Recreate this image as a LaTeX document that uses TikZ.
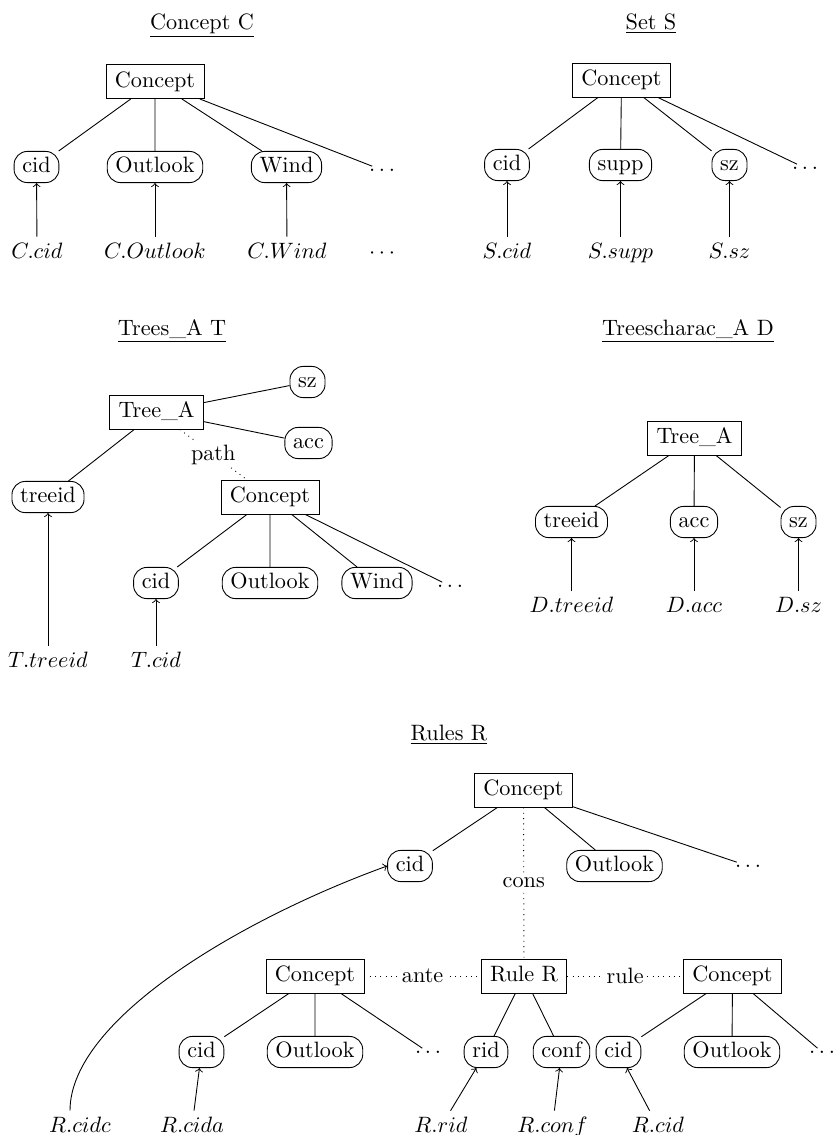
\documentclass[tikz,border=0pt]{standalone}
\usepackage{xcolor}
\usepackage{tikz}

\begin{document}
\begin{tikzpicture}[x=.45pt,y=-.45pt,
  box/.style={draw,inner xsep=4pt,inner ysep=3.25pt,text height=1.6ex,text depth=.45ex},
  att/.style={draw,rounded corners=6pt,inner xsep=3.7pt,inner ysep=2.6pt,text height=1.6ex,text depth=.45ex},
  more/.style={inner sep=1pt},
  lbl/.style={anchor=base,inner sep=2.5pt,text height=1.6ex,text depth=.45ex},
  ttl/.style={anchor=base},
  rel/.style={fill=white,inner sep=1pt}]
  \useasboundingbox (0,0) rectangle (839,1135);

  % Concept C
  \node[ttl] (ttlC) at (202,29) {\underline{Concept C}};
  \node[box] (cC) at (155,81.5) {Concept};
  \node[att] (cCid) at (36.5,167) {cid};
  \node[att] (cOut) at (155,167) {Outlook};
  \node[att] (cWind) at (286.5,167) {Wind};
  \node[more] (cMore) at (382,170) {$\ldots$};
  \draw (cC) -- (cCid) (cC) -- (cOut) (cC) -- (cWind) (cC) -- (cMore);
  \node[lbl] (lCcid) at (37,258) {$C.cid$};
  \node[lbl] (lCout) at (155,258) {$C.Outlook$};
  \node[lbl] (lCwind) at (287,258) {$C.Wind$};
  \node[lbl] (lCmore) at (382,258) {$\cdots$};
  \draw[->] (lCcid) -- (cCid);
  \draw[->] (lCout) -- (cOut);
  \draw[->] (lCwind) -- (cWind);

  % Set S
  \node[ttl] (ttlS) at (651,29) {\underline{Set S}};
  \node[box] (sC) at (621.5,80) {Concept};
  \node[att] (sCid) at (507,165) {cid};
  \node[att] (sSupp) at (620.5,165) {supp};
  \node[att] (sSz) at (729.5,165) {sz};
  \node[more] (sMore) at (805,168) {$\ldots$};
  \draw (sC) -- (sCid) (sC) -- (sSupp) (sC) -- (sSz) (sC) -- (sMore);
  \node[lbl] (lScid) at (507,258) {$S.cid$};
  \node[lbl] (lSsupp) at (620.5,258) {$S.supp$};
  \node[lbl] (lSsz) at (729.5,258) {$S.sz$};
  \draw[->] (lScid) -- (sCid);
  \draw[->] (lSsupp) -- (sSupp);
  \draw[->] (lSsz) -- (sSz);

  % Trees_A T
  \node[ttl] (ttlT) at (172,335) {\underline{Trees\_A T}};
  \node[box] (tTree) at (156.5,412) {Tree\_A};
  \node[att] (tSz) at (307.5,382) {sz};
  \node[att] (tAcc) at (308.5,443) {acc};
  \node[att] (tTid) at (48,497) {treeid};
  \node[box] (tC) at (270,497) {Concept};
  \node[att] (tCid) at (156,583) {cid};
  \node[att] (tOut) at (270,583) {Outlook};
  \node[att] (tWind) at (377,583) {Wind};
  \node[more] (tMore) at (450,586) {$\ldots$};
  \draw (tTree) -- (tSz) (tTree) -- (tAcc) (tTree) -- (tTid);
  \draw[dotted] (tTree) -- node[rel] {path} (tC);
  \draw (tC) -- (tCid) (tC) -- (tOut) (tC) -- (tWind) (tC) -- (tMore);
  \node[lbl] (lTtid) at (48,667) {$T.treeid$};
  \node[lbl] (lTcid) at (156,667) {$T.cid$};
  \draw[->] (lTtid) -- (tTid);
  \draw[->] (lTcid) -- (tCid);

  % Treescharac_A D
  \node[ttl] (ttlD) at (688,335) {\underline{Treescharac\_A D}};
  \node[box] (dTree) at (694.5,438) {Tree\_A};
  \node[att] (dTid) at (571.5,522) {treeid};
  \node[att] (dAcc) at (694,522) {acc};
  \node[att] (dSz) at (798.5,522) {sz};
  \draw (dTree) -- (dTid) (dTree) -- (dAcc) (dTree) -- (dSz);
  \node[lbl] (lDtid) at (571.5,612) {$D.treeid$};
  \node[lbl] (lDacc) at (694,612) {$D.acc$};
  \node[lbl] (lDsz) at (798.5,612) {$D.sz$};
  \draw[->] (lDtid) -- (dTid);
  \draw[->] (lDacc) -- (dAcc);
  \draw[->] (lDsz) -- (dSz);

  % Rules R
  \node[ttl] (ttlR) at (449,740) {\underline{Rules R}};
  \node[box] (rConcC) at (523.5,790) {Concept};
  \node[att] (rCidc) at (410,866) {cid};
  \node[att] (rOutc) at (614.5,866) {Outlook};
  \node[more] (rMorec) at (748,866) {$\ldots$};
  \draw (rConcC) -- (rCidc) (rConcC) -- (rOutc) (rConcC) -- (rMorec);
  \node[box] (rRule) at (524,976) {Rule R};
  \node[box] (rConcA) at (315,976) {Concept};
  \node[box] (rConcR) at (732.5,976) {Concept};
  \draw[dotted] (rConcC) -- node[rel] {cons} (rRule);
  \draw[dotted] (rConcA) -- node[rel] {ante} (rRule);
  \draw[dotted] (rRule) -- node[rel] {rule} (rConcR);
  \node[att] (rCida) at (201.5,1052) {cid};
  \node[att] (rOuta) at (315,1052) {Outlook};
  \node[more] (rMorea) at (428,1052) {$\ldots$};
  \node[att] (rRid) at (486,1052) {rid};
  \node[att] (rConf) at (561.5,1052) {conf};
  \node[att] (rCid) at (618.5,1052) {cid};
  \node[att] (rOutr) at (732,1052) {Outlook};
  \node[more] (rMorer) at (822,1052) {$\ldots$};
  \draw (rConcA) -- (rCida) (rConcA) -- (rOuta) (rConcA) -- (rMorea);
  \draw (rRule) -- (rRid) (rRule) -- (rConf);
  \draw (rConcR) -- (rCid) (rConcR) -- (rOutr) (rConcR) -- (rMorer);
  \node[lbl] (lRcidc) at (80,1132) {$R.cidc$};
  \node[lbl] (lRcida) at (192,1132) {$R.cida$};
  \node[lbl] (lRrid) at (441,1132) {$R.rid$};
  \node[lbl] (lRconf) at (552.5,1132) {$R.conf$};
  \node[lbl] (lRcid) at (658,1132) {$R.cid$};
  \draw[->] ([xshift=-4.5pt]lRcidc.north) .. controls (70,1018) and (246,917) .. (rCidc.west);
  \draw[->] (lRcida) -- (rCida);
  \draw[->] (lRrid) -- (rRid);
  \draw[->] (lRconf) -- (rConf);
  \draw[->] (lRcid) -- (rCid);
\end{tikzpicture}
\end{document}
